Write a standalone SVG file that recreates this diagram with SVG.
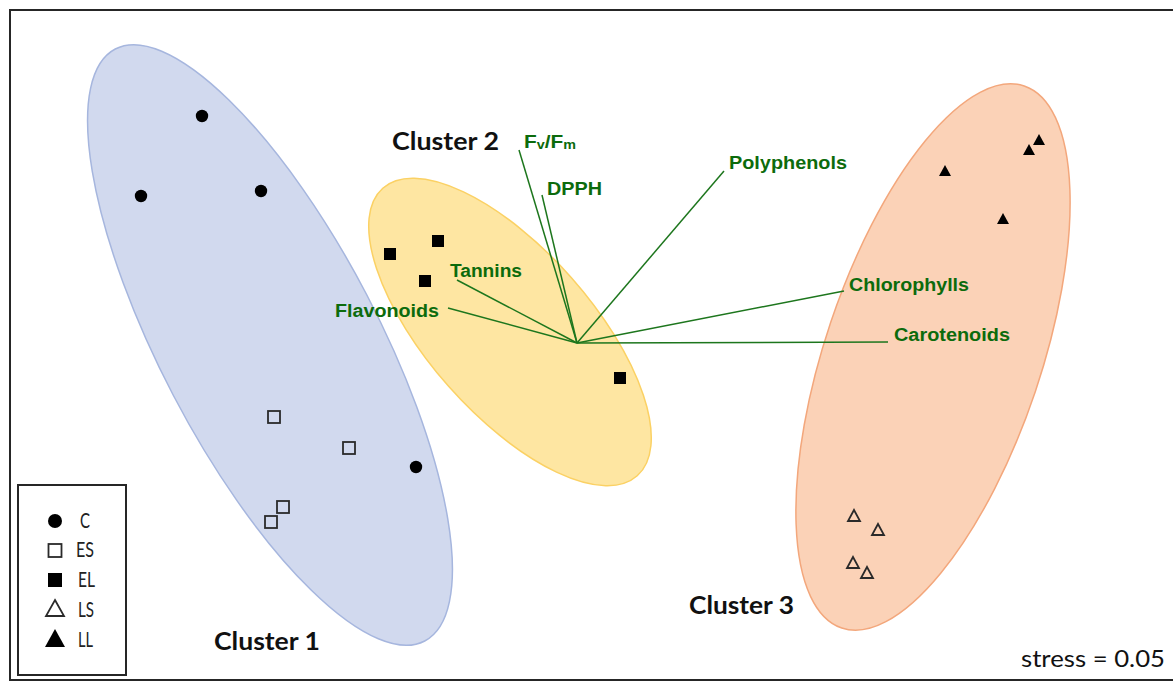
<svg xmlns="http://www.w3.org/2000/svg" width="1173" height="682" viewBox="0 0 1173 682">
  <style>
    .frame { fill: #ffffff; stroke: #262626; stroke-width: 2; }
    .c1 { fill: #d1d9ee; stroke: #a6b6de; stroke-width: 1.5; }
    .c2 { fill: #fee6a2; stroke: #fbd164; stroke-width: 1.5; }
    .c3 { fill: #fbd2b7; stroke: #f3a77c; stroke-width: 1.5; }
    .vec { stroke: #1d761d; stroke-width: 1.5; fill: none; }
    .vlab { font-family: "Liberation Sans", Arial, sans-serif; font-weight: bold; font-size: 17.5px; fill: #0c6b0c; }
    .clab { font-family: Lato, "Open Sans", sans-serif; font-weight: bold; font-size: 25px; fill: #111111; }
    .leg { font-family: Lato, "Open Sans", sans-serif; font-size: 22px; fill: #222222; }
    .stress { font-family: Lato, "Open Sans", sans-serif; font-size: 23px; fill: #111111; }
    .fill { fill: #000000; }
    .open { fill: none; stroke: #2a2a2a; stroke-width: 1.8; }
    .legbox { fill: #ffffff; stroke: #262626; stroke-width: 2; }
  </style>

  <rect class="frame" x="10" y="10" width="1175" height="670"/>

  <g id="cluster1">
    <ellipse class="c1" cx="270" cy="345" rx="334" ry="109" transform="rotate(62.4 270 345)"/>
    <text class="clab" x="214" y="650" textLength="106" lengthAdjust="spacingAndGlyphs">Cluster 1</text>
  </g>
  <g id="cluster2">
    <ellipse class="c2" cx="510" cy="332" rx="192" ry="82" transform="rotate(48.5 510 332)"/>
    <text class="clab" x="392" y="150" textLength="107" lengthAdjust="spacingAndGlyphs">Cluster 2</text>
  </g>
  <g id="cluster3">
    <ellipse class="c3" cx="933" cy="357" rx="286" ry="108" transform="rotate(-71.4 933 357)"/>
    <text class="clab" x="689" y="614" textLength="105" lengthAdjust="spacingAndGlyphs">Cluster 3</text>
  </g>

  <g id="connectors">
    <line class="vec" x1="577" y1="343" x2="519" y2="150"/>
    <line class="vec" x1="577" y1="343" x2="542" y2="195"/>
    <line class="vec" x1="577" y1="343" x2="724" y2="171"/>
    <line class="vec" x1="577" y1="343" x2="844" y2="291"/>
    <line class="vec" x1="577" y1="343" x2="888" y2="342"/>
    <line class="vec" x1="577" y1="343" x2="457" y2="280"/>
    <line class="vec" x1="577" y1="343" x2="448" y2="308"/>
  </g>

  <g id="vector-labels">
    <text id="fvfm" class="vlab" x="524" y="148" textLength="52" lengthAdjust="spacingAndGlyphs">F<tspan font-size="12" dy="1">v</tspan><tspan dy="-1">/F</tspan><tspan font-size="12" dy="1">m</tspan></text>
    <text id="dpph" class="vlab" x="547" y="195" textLength="55" lengthAdjust="spacingAndGlyphs">DPPH</text>
    <text id="polyphenols" class="vlab" x="729" y="169" textLength="118" lengthAdjust="spacingAndGlyphs">Polyphenols</text>
    <text id="chlorophylls" class="vlab" x="849" y="291" textLength="120" lengthAdjust="spacingAndGlyphs">Chlorophylls</text>
    <text id="carotenoids" class="vlab" x="894" y="341" textLength="116" lengthAdjust="spacingAndGlyphs">Carotenoids</text>
    <text id="tannins" class="vlab" x="450" y="277" textLength="72" lengthAdjust="spacingAndGlyphs">Tannins</text>
    <text id="flavonoids" class="vlab" x="335" y="317" textLength="104" lengthAdjust="spacingAndGlyphs">Flavonoids</text>
  </g>

  <g id="points-C">
    <circle class="fill" cx="202" cy="116" r="6.2"/>
    <circle class="fill" cx="141" cy="196" r="6.2"/>
    <circle class="fill" cx="261" cy="191" r="6.2"/>
    <circle class="fill" cx="416" cy="467" r="6.2"/>
  </g>
  <g id="points-ES">
    <rect class="open" x="268" y="411" width="12" height="12"/>
    <rect class="open" x="343" y="442" width="12" height="12"/>
    <rect class="open" x="277" y="501" width="12" height="12"/>
    <rect class="open" x="265" y="516" width="12" height="12"/>
  </g>
  <g id="points-EL">
    <rect class="fill" x="384" y="248" width="12" height="12"/>
    <rect class="fill" x="432" y="235" width="12" height="12"/>
    <rect class="fill" x="419" y="275" width="12" height="12"/>
    <rect class="fill" x="614" y="372" width="12" height="12"/>
  </g>
  <g id="points-LS">
    <polygon class="open" points="854,510 860,521 848,521"/>
    <polygon class="open" points="878,524 884,535 872,535"/>
    <polygon class="open" points="853,557 859,568 847,568"/>
    <polygon class="open" points="867,567 873,578 861,578"/>
  </g>
  <g id="points-LL">
    <polygon class="fill" points="1039,134 1045,145 1033,145"/>
    <polygon class="fill" points="1029,144 1035,155 1023,155"/>
    <polygon class="fill" points="945,165 951,176 939,176"/>
    <polygon class="fill" points="1003,213 1009,224 997,224"/>
  </g>

  <g id="legend">
    <rect class="legbox" x="18" y="485" width="108" height="190"/>
    <circle class="fill" cx="55" cy="521" r="7"/>
    <text class="leg" x="80" y="528" textLength="10" lengthAdjust="spacingAndGlyphs">C</text>
    <rect class="open" x="48.5" y="544" width="13" height="13"/>
    <text class="leg" x="76" y="557" textLength="18" lengthAdjust="spacingAndGlyphs">ES</text>
    <rect class="fill" x="48" y="573" width="14" height="14"/>
    <text class="leg" x="78" y="587" textLength="17" lengthAdjust="spacingAndGlyphs">EL</text>
    <polygon class="open" points="55,600 64,616 46,616"/>
    <text class="leg" x="78" y="617" textLength="16" lengthAdjust="spacingAndGlyphs">LS</text>
    <polygon class="fill" points="55,629 65,647 45,647"/>
    <text class="leg" x="78" y="647" textLength="15" lengthAdjust="spacingAndGlyphs">LL</text>
  </g>

  <text id="stress" class="stress" x="1021" y="667" textLength="144" lengthAdjust="spacingAndGlyphs">stress = 0.05</text>
</svg>
